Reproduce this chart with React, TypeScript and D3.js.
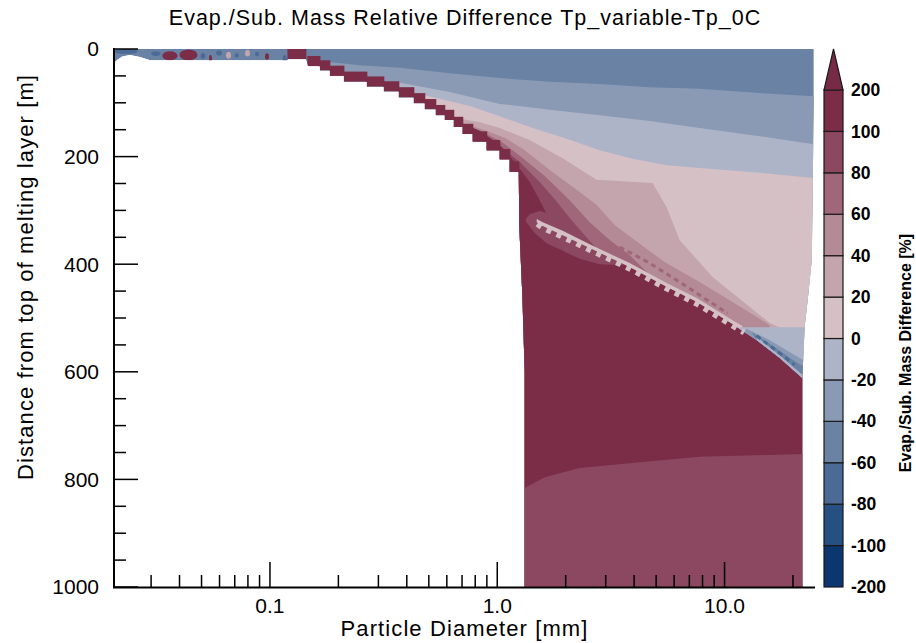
import React from 'react';
import * as d3 from 'd3';

// ---------- text ----------
const TITLE = 'Evap./Sub. Mass Relative Difference Tp_variable-Tp_0C';
const X_LABEL = 'Particle Diameter [mm]';
const Y_LABEL = 'Distance from top of melting layer [m]';
const CB_LABEL = 'Evap./Sub. Mass Difference [%]';

// ---------- axes ----------
const X_DOMAIN: [number, number] = [0.0206, 25];
const Y_DOMAIN: [number, number] = [0, 1000];
const X_MAJOR = [0.1, 1, 10];
const X_MAJOR_LABELS = ['0.1', '1.0', '10.0'];
const X_MINOR = [0.03, 0.04, 0.05, 0.06, 0.07, 0.08, 0.09, 0.2, 0.3, 0.4, 0.5, 0.6, 0.7, 0.8, 0.9, 2, 3, 4, 5, 6, 7, 8, 9, 20];
const Y_MAJOR = [0, 200, 400, 600, 800, 1000];
const Y_MINOR = [50, 100, 150, 250, 300, 350, 450, 500, 550, 650, 700, 750, 850, 900, 950];

// ---------- colour levels ----------
const LEVELS = [-200, -100, -80, -60, -40, -20, 0, 20, 40, 60, 80, 100, 200];
const LEVEL_COLORS = ['#0b3670', '#264f82', '#4b6a95', '#6a82a3', '#8a9ab4', '#aeb4c8', '#d5c1c5', '#c4a5ae', '#b48a97', '#a0677b', '#8c4860', '#7b2d48'];
const OVER_COLOR = '#772a45';

// ---------- contour geometry: [diameter mm, depth m] ----------
const DATA_RIGHT_EDGE = [[24.7, 0], [24.7, 95], [24.2, 392], [23.2, 467], [22.5, 517], [22.0, 610], [22.0, 1000]];
const DATA_LEFT_EDGE = [[1.32, 1000], [1.32, 600], [1.29, 460], [1.25, 330], [1.2431, 228]];
// staircase of the no-data boundary: [dStart, dEnd, zBottom]
const STEPS = [
  [0.1200, 0.1439, 19], [0.1469, 0.1659, 32], [0.1659, 0.1835, 40], [0.1835, 0.2115, 50],
  [0.2115, 0.2669, 61], [0.2669, 0.3170, 70], [0.3170, 0.3690, 79], [0.3690, 0.4295, 90],
  [0.4295, 0.4801, 101], [0.4801, 0.5366, 112], [0.5366, 0.5877, 123], [0.5877, 0.6437, 132],
  [0.6437, 0.7052, 145], [0.7052, 0.7806, 158], [0.7806, 0.8992, 172], [0.8992, 1.0256, 188],
  [1.0256, 1.1348, 205], [1.1348, 1.2431, 228],
];
const STEP_DEPTH = 19;
const STRIP_EDGE = [[0.1200, 21], [0.0297, 21], [0.0268, 15], [0.0242, 11], [0.0224, 14], [0.0213, 20], [0.0206, 26]];

// contour lines (region below each line gets the value)
const B1 = [[0.1626, 22], [0.2486, 30], [0.3727, 35], [0.618, 45], [1.025, 54], [1.701, 61], [2.82, 65], [4.68, 71], [7.77, 74], [14.26, 82], [24.6, 88], [30, 90]];
const B2 = [[0.354, 61], [0.618, 80], [1.025, 102], [1.70, 113], [2.82, 123], [4.68, 134], [7.77, 147], [14.26, 162], [24.6, 177], [30, 180]];
const B3 = [[0.480, 86], [0.757, 106], [1.025, 125], [1.432, 147], [2.02, 167], [2.82, 188], [3.94, 204], [5.56, 216], [7.77, 221], [14.26, 230], [24.6, 240], [30, 242]];
const L20 = [[0.6505, 128], [0.8377, 136], [1.0256, 147], [1.3896, 169], [1.9402, 203], [2.7371, 243], [4.8256, 249], [5.5621, 294], [6.3432, 355], [8.8582, 424], [15.771, 509], [17.45, 517]];
const L40 = [[0.7197, 139], [0.8812, 151], [1.0789, 165], [1.3213, 188], [1.7013, 225], [2.3048, 266], [2.7371, 290], [3.285, 327], [4.021, 355], [5.449, 396], [7.766, 433], [11.64, 478], [15.771, 513]];
const L60 = [[0.6982, 139], [0.8549, 154], [1.0466, 173], [1.2815, 201], [1.6174, 236], [2.0833, 281], [2.5505, 322], [3.1228, 355], [3.8228, 383], [4.681, 420]];
const L80 = [[0.6706, 139], [0.8377, 158], [1.0256, 180], [1.2557, 210], [1.5374, 247], [1.8072, 281], [2.0833, 314], [2.4245, 346], [2.8215, 377]];
const L100 = [[0.6505, 132], [0.8377, 152], [1.0256, 178], [1.1937, 210], [1.3896, 247], [1.5374, 281], [1.634, 303], [1.6672, 322]];
const SAW = [[1.362, 322], [1.585, 329], [1.940, 346], [2.551, 370], [3.823, 405], [5.562, 442], [7.534, 470], [10.845, 511], [13.825, 541], [17.452, 574], [21.801, 610], [28.9, 643]];
const LOWER = [[1.3213, 816], [1.6174, 796], [2.3048, 779], [4.2304, 768], [7.766, 758], [22.0, 753], [28.9, 753]];

// closed contour patches
const LOBE = [[1.3344, 316], [1.3896, 307], [1.5374, 301], [1.6672, 305], [1.8072, 322], [1.9402, 346], [2.5505, 370], [3.635, 402], [2.8215, 400], [2.3048, 390], [1.980, 377], [1.6505, 361], [1.4615, 342], [1.3344, 320]];
const STRIPE = [[1.4916, 316], [1.5849, 322], [1.9402, 338], [2.5505, 363], [3.8228, 398], [5.5621, 435], [7.5336, 463], [10.845, 504], [11.998, 515], [11.998, 524], [10.845, 511], [7.5336, 470], [5.5621, 442], [3.8228, 405], [2.5505, 370], [1.9402, 346], [1.5849, 329], [1.4916, 322]];
const STRIPE_TEETH = [[1.50, 325], [1.5849, 332], [1.9402, 349], [2.5505, 373], [3.8228, 408], [5.5621, 445], [7.5336, 473], [10.845, 514], [12.2, 527]];
const WEDGE1 = [[11.64, 517], [28.94, 517], [28.94, 643], [21.801, 610], [17.452, 574], [13.825, 541], [11.64, 520]];
const WEDGE2 = [[12.494, 520], [15.771, 541], [19.308, 563], [28.94, 606], [28.94, 643], [21.801, 610], [17.452, 574], [13.825, 541], [11.998, 524]];
const WEDGE3 = [[13.14, 526], [16.59, 554], [20.31, 580], [28.94, 619], [28.94, 643], [21.801, 610], [17.452, 574], [13.825, 541]];
const WEDGE_STRIPE = [[13.825, 535], [17.452, 569], [21.801, 604], [28.94, 637], [28.94, 643], [21.801, 610], [17.452, 574], [13.825, 541]];
const DOTS = [[3.4555, 368], [4.681, 398], [6.672, 439], [8.768, 472], [10.31, 491]];
const WEDGE_DASHES = [[13.825, 533], [16.59, 558], [20.31, 587]];

// small closed contours near the top: [d0, d1, z0, z1, value]
const BLOBS = [
  [0.0207, 0.0262, 0, 9, -70], [0.0300, 0.0330, 4, 13, -70], [0.0336, 0.0392, 4, 21, 150],
  [0.0400, 0.0480, 1, 21, 150], [0.0495, 0.0520, 8, 18, -70], [0.0539, 0.0556, 11, 26, 150],
  [0.0580, 0.0615, 3, 12, -70], [0.0641, 0.0674, 5, 18, 30], [0.0700, 0.0730, 8, 16, -70],
  [0.0777, 0.0817, 2, 14, 30], [0.0860, 0.0895, 5, 14, -70], [0.0951, 0.0990, 8, 20, 150],
  [0.1137, 0.1184, 11, 28, -70],
];

const FONT = "'Liberation Sans', Arial, Helvetica, sans-serif";

export default function App() {
  const x = d3.scaleLog().domain(X_DOMAIN).range([114, 815]);
  const y = d3.scaleLinear().domain(Y_DOMAIN).range([49, 587]);
  const color = d3.scaleThreshold<number, string>().domain(LEVELS.slice(1, -1)).range(LEVEL_COLORS);
  const line = d3.line<number[]>().x(p => x(p[0])).y(p => y(p[1]));
  const closed = (pts: number[][]) => (line(pts) || '') + 'Z';
  const below = (pts: number[][]) => closed([...pts, [pts[pts.length - 1][0], 1300], [pts[0][0], 1300]]);

  const envelope: number[][] = [[X_DOMAIN[0], 0], ...DATA_RIGHT_EDGE, ...DATA_LEFT_EDGE];
  [...STEPS].reverse().forEach(s => { envelope.push([s[1], s[2]], [s[0], s[2]]); });
  envelope.push(...STRIP_EDGE);

  const layers: { d: string; v: number }[] = [
    { d: closed(envelope), v: -50 },
    { d: below(B1), v: -30 },
    { d: below(B2), v: -10 },
    { d: below(B3), v: 10 },
    { d: below(L20), v: 30 },
    { d: below(L40), v: 50 },
    { d: below(L60), v: 70 },
    { d: below(L80), v: 90 },
    { d: below([...L100, ...SAW.slice(2)]), v: 150 },
    { d: closed(LOBE), v: 90 },
    { d: closed(STRIPE), v: 10 },
    { d: closed(WEDGE1), v: -10 },
    { d: closed(WEDGE2), v: -30 },
    { d: closed(WEDGE3), v: -50 },
    { d: closed(WEDGE_STRIPE), v: -10 },
    { d: below(LOWER), v: 90 },
  ];

  const cb = d3.scaleLinear().domain([0, LEVELS.length - 1]).range([587, 90]);
  const cbX0 = 824, cbX1 = 843;

  return (
    <svg width={916} height={643} style={{ position: 'absolute', left: 0, top: 0, background: '#fff' }} fontFamily={FONT}>
      <defs>
        <clipPath id="dataClip"><path d={closed(envelope)} /></clipPath>
      </defs>
      <g clipPath="url(#dataClip)">
        {layers.map((l, i) => <path key={i} d={l.d} fill={color(l.v)} />)}
        <path d={line(STRIPE_TEETH) || ''} fill="none" stroke={color(10)} strokeWidth={6} strokeDasharray="5 6" />
        <path d={line(DOTS) || ''} fill="none" stroke={color(70)} strokeWidth={3} strokeDasharray="5 4" />
        <path d={line(WEDGE_DASHES) || ''} fill="none" stroke={color(-70)} strokeWidth={3} strokeDasharray="5 4" />
        {STEPS.map((s, i) => (
          <rect key={i} x={x(s[0]) - 0.5} width={x(s[1]) - x(s[0]) + 1} y={y(s[2] - STEP_DEPTH)} height={y(s[2]) - y(s[2] - STEP_DEPTH)} fill={color(150)} />
        ))}
        {BLOBS.map((b, i) => (
          <ellipse key={i} cx={(x(b[0]) + x(b[1])) / 2} cy={(y(b[2]) + y(b[3])) / 2} rx={(x(b[1]) - x(b[0])) / 2} ry={(y(b[3]) - y(b[2])) / 2} fill={color(b[4])} />
        ))}
      </g>

      {/* axes */}
      <g stroke="#000" strokeWidth={1.5}>
        {Y_MAJOR.map(v => <line key={'ym' + v} x1={114} x2={138} y1={y(v)} y2={y(v)} />)}
        {Y_MINOR.map(v => <line key={'yn' + v} x1={114} x2={126} y1={y(v)} y2={y(v)} />)}
        {X_MAJOR.map(v => <line key={'xm' + v} x1={x(v)} x2={x(v)} y1={587} y2={562} />)}
        {X_MINOR.map(v => <line key={'xn' + v} x1={x(v)} x2={x(v)} y1={587} y2={575} />)}
      </g>
      <line x1={114} x2={114} y1={48} y2={588} stroke="#000" strokeWidth={2} />
      <line x1={113} x2={815} y1={587.5} y2={587.5} stroke="#000" strokeWidth={2} />

      <g fontSize={21} fill="#000">
        {Y_MAJOR.map(v => <text key={'yl' + v} x={99} y={y(v)} dy="0.35em" textAnchor="end">{v}</text>)}
        {X_MAJOR.map((v, i) => <text key={'xl' + v} x={x(v)} y={613} textAnchor="middle">{X_MAJOR_LABELS[i]}</text>)}
      </g>

      <text x={465} y={25} fontSize={21.5} letterSpacing={1} textAnchor="middle">{TITLE}</text>
      <text x={464.5} y={636} fontSize={22} letterSpacing={1.1} textAnchor="middle">{X_LABEL}</text>
      <text transform="translate(33,277) rotate(-90)" fontSize={22} letterSpacing={1.1} textAnchor="middle">{Y_LABEL}</text>

      {/* colour bar */}
      <g>
        {LEVEL_COLORS.map((c, i) => (
          <rect key={i} x={cbX0} width={cbX1 - cbX0} y={cb(i + 1)} height={cb(i) - cb(i + 1)} fill={c} stroke="#1a1a1a" strokeWidth={1.2} />
        ))}
        <path d={`M${cbX0},${cb(LEVELS.length - 1)}L${(cbX0 + cbX1) / 2},49L${cbX1},${cb(LEVELS.length - 1)}Z`} fill={OVER_COLOR} stroke="#1a1a1a" strokeWidth={1.2} />
        {LEVELS.map((v, i) => (
          <text key={v} x={851} y={cb(i)} dy="0.35em" fontSize={17.5} fontWeight="bold">{v}</text>
        ))}
        <text transform="translate(911,353) rotate(-90)" fontSize={16} fontWeight="bold" textAnchor="middle">{CB_LABEL}</text>
      </g>
    </svg>
  );
}
